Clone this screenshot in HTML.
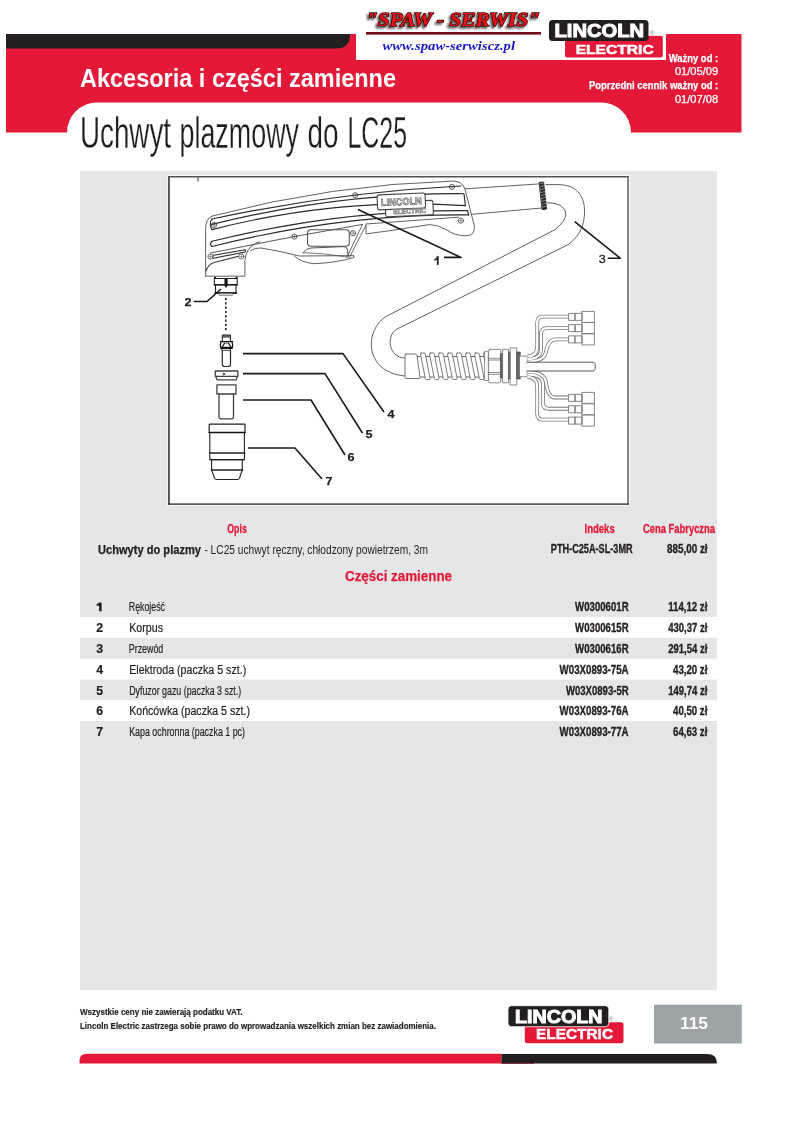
<!DOCTYPE html>
<html><head><meta charset="utf-8">
<style>
html,body{margin:0;padding:0;background:#fff;width:800px;height:1131px;overflow:hidden}
svg{position:absolute;left:0;top:0;display:block;will-change:transform}
svg{font-family:"Liberation Sans",sans-serif}
.b{font-weight:bold}
</style></head><body>
<svg width="800" height="1131" viewBox="0 0 800 1131">
<!-- header band -->
<rect x="6" y="34" width="735.5" height="98.5" fill="#E31937"/>
<path d="M6 34 H350 V34.5 Q350 48.5 336 48.5 H6 Z" fill="#231F20"/>
<rect x="356" y="0" width="310" height="60" fill="#fff"/>
<path d="M67 132.5 A30 30 0 0 1 97 102.5 H601 A30 30 0 0 1 631 132.5 Z" fill="#fff"/>
<rect x="67" y="132" width="564" height="40" fill="#fff"/>

<!-- SPAW SERWIS -->
<defs><filter id="blur1" x="-10%" y="-30%" width="120%" height="160%"><feGaussianBlur stdDeviation="1"/></filter></defs>
<text x="364" y="27.5" font-family="Liberation Serif" font-weight="bold" font-style="italic" font-size="19.5" fill="#555" filter="url(#blur1)" stroke="#555" stroke-width="1.5" textLength="174" lengthAdjust="spacingAndGlyphs">"SPAW - SERWIS"</text>
<text x="366" y="25.6" font-family="Liberation Serif" font-weight="bold" font-style="italic" font-size="19.5" fill="#EE1119" stroke="#3a0a0a" stroke-width="1.5" paint-order="stroke" textLength="174" lengthAdjust="spacingAndGlyphs">"SPAW - SERWIS"</text>
<rect x="366" y="32" width="175" height="2.6" fill="#7a0a14"/>
<text x="382.5" y="50" font-family="Liberation Serif" font-weight="bold" font-style="italic" font-size="12.5" fill="#1a1ac8" textLength="132.5" lengthAdjust="spacingAndGlyphs">www.spaw-serwiscz.pl</text>

<!-- Lincoln logo top -->
<rect x="564.4" y="35.2" width="99" height="22.8" rx="2.5" fill="#E31937" stroke="#fff" stroke-width="1.2"/>
<rect x="549" y="20" width="99.5" height="21" rx="3.5" fill="#231F20"/>
<text x="554.5" y="36.8" class="b" font-size="18" fill="#fff" stroke="#fff" stroke-width="1" textLength="89.5" lengthAdjust="spacingAndGlyphs">LINCOLN</text>
<text x="575.7" y="54.2" class="b" font-size="12.8" fill="#fff" stroke="#fff" stroke-width="0.5" textLength="78" lengthAdjust="spacingAndGlyphs">ELECTRIC</text>
<text x="650" y="35" font-size="6" fill="#777">®</text>

<!-- right header texts -->
<g fill="#fff" font-size="10.2" text-anchor="end" stroke="#fff" stroke-width="0.25">
<text x="718.2" y="61.6" class="b" textLength="49.5" lengthAdjust="spacingAndGlyphs">Ważny od :</text>
<text x="718.2" y="75.3" textLength="43.3" lengthAdjust="spacingAndGlyphs">01/05/09</text>
<text x="718.2" y="89.1" class="b" textLength="129.2" lengthAdjust="spacingAndGlyphs">Poprzedni cennik ważny od :</text>
<text x="718.2" y="103.1" textLength="43.3" lengthAdjust="spacingAndGlyphs">01/07/08</text>
</g>

<!-- titles -->
<text x="80" y="87" class="b" font-size="25" fill="#fff" textLength="316" lengthAdjust="spacingAndGlyphs">Akcesoria i części zamienne</text>
<g font-size="44.8" fill="#1d1d1b" stroke="#fff" stroke-width="0.3">
<text x="80" y="148" textLength="91" lengthAdjust="spacingAndGlyphs">Uchwyt</text>
<text x="179.5" y="148" textLength="119.5" lengthAdjust="spacingAndGlyphs">plazmowy</text>
<text x="307.5" y="148" textLength="31" lengthAdjust="spacingAndGlyphs">do</text>
<text x="347.5" y="148" textLength="59.5" lengthAdjust="spacingAndGlyphs">LC25</text>
</g>

<!-- grey panel -->
<rect x="80" y="171" width="637" height="819" fill="#E5E6E8"/>
<!-- diagram box -->
<rect x="167" y="175" width="463" height="331" fill="#fff" fill-opacity="0.7"/>
<rect x="168" y="176" width="460.75" height="328.8" fill="#fff"/>
<rect x="168" y="176" width="1.9" height="328.8" fill="#525252"/>
<rect x="168" y="176" width="460.75" height="1.5" fill="#525252"/>
<rect x="627.25" y="176" width="1.5" height="328.8" fill="#5e5e5e"/>
<rect x="168" y="503.4" width="460.75" height="1.4" fill="#333"/>
<g id="diagram" fill="none" stroke="#444" stroke-width="0.85" stroke-linejoin="round" stroke-linecap="round">
<!-- handle outline -->
<path d="M205.6 276.2 V229.5 Q205.6 218.5 212 216.1 Q332.5 184.3 453 181.1 Q462 181 465 189 L468.7 203.7 L474.4 226.2 Q475 235.8 466 235.8 Q455 235.8 446.2 229.6 Q437 224.5 429.4 224.6 Q410 227.5 390 230.7 L367 233.7"/>
<path d="M366 224 L458.6 217.2"/>
<path d="M205.6 276.2 H244.9 V260.5 Q246 248 256 243 L260 241.8"/>
<path d="M210.5 253 L294 236.6 L362.5 224.4" stroke-width="0.9"/>
<!-- grooves -->
<g stroke-width="1.15" stroke="#2a2a2a">
<path d="M212 219 Q336.5 192.2 461 186"/>
<path d="M212 224.4 Q338 193.1 464 193.7 L465.4 205.6"/>
<path d="M212 229.6 Q338.5 197 465.4 205.6"/>
<path d="M212 219 Q208.5 224 212 229.6"/>
<path d="M212 241.3 Q339.8 209.6 467.6 210.6 L468.7 215"/>
<path d="M212 246.5 Q340.4 214 468.7 214.9"/>
<path d="M212 241.3 Q209 244 212 246.5"/>
<path d="M212 255.5 L245.3 249.8 V252 L212 258.5"/>
</g>
<path d="M206 271 Q208 264.5 214 262.5 L238.3 256.4" stroke-width="1.1"/>
<!-- screws -->
<g stroke-width="0.8">
<circle cx="214" cy="225" r="2.6"/><circle cx="210.5" cy="256.4" r="2.6" fill="#fff"/><circle cx="241.3" cy="256.4" r="2.6" fill="#fff"/>
<circle cx="294.4" cy="236.6" r="2.6"/><circle cx="353" cy="233.2" r="2.6"/><circle cx="355.2" cy="195.2" r="2.6"/>
<circle cx="451.9" cy="186.9" r="2.6"/><circle cx="460.9" cy="220.6" r="2.6"/>
<path d="M212.5 225 h3 M214 223.5 v3 M209 256.4 h3 M210.5 254.9 v3 M239.8 256.4 h3 M241.3 254.9 v3 M292.9 236.6 h3 M294.4 235.1 v3 M351.5 233.2 h3 M353 231.7 v3 M353.7 195.2 h3 M355.2 193.7 v3 M450.4 186.9 h3 M451.9 185.4 v3 M459.4 220.6 h3 M460.9 219.1 v3" stroke-width="0.5"/>
</g>
<!-- trigger -->
<rect x="307.5" y="229.8" width="41.8" height="16.4" rx="3.5" stroke="#555" stroke-width="1.1"/>
<path d="M303 252.6 Q306 248.5 311 248 L344 246.6 Q347 246.6 347.6 250 L348 257" stroke="#555" stroke-width="1"/>
<path d="M303 252.6 Q325 253 346.5 257" stroke-width="0.7"/>
<path d="M250.6 250.6 Q255 247.5 261 248 Q280 251 299.5 256 L353.8 255.6 V257.6 Q335 263 313.5 263.7 Q300 262 294.3 255.9"/>
<path d="M362.5 224.4 L346.8 257.6 M366 225.2 L349.4 257.6" stroke-width="0.8"/>
<path d="M366 225.2 V233.7" stroke-width="0.8"/>
<!-- lincoln plates -->
<g transform="rotate(-2.5 405 205)">
<rect x="385.3" y="201.5" width="47.7" height="14.5" rx="2" stroke="#444" stroke-width="1.1" fill="#fff"/>
<rect x="377.5" y="193.8" width="48" height="15" rx="2.2" stroke="#444" stroke-width="1.1" fill="#fff"/>
<text x="381" y="205" font-size="10" font-weight="bold" fill="#eee" stroke="#666" stroke-width="0.7" textLength="41" lengthAdjust="spacingAndGlyphs">LINCOLN</text>
<text x="393" y="213.8" font-size="7" font-weight="bold" fill="#ccc" stroke="#777" stroke-width="0.6" textLength="33" lengthAdjust="spacingAndGlyphs">ELECTRIC</text>
</g>
<!-- head body (2) -->
<path d="M214.3 278.5 H237.2 V284.8 H214.3 Z" stroke="#222" stroke-width="1.1"/>
<path d="M215.5 285 V293 H236 V285" stroke="#222" stroke-width="1.1"/>
<path d="M215 293 H236.5" stroke="#111" stroke-width="1.5"/>
<path d="M214.3 284.8 H237.2" stroke="#111" stroke-width="1.3"/>
<circle cx="215" cy="277.8" r="1.1" fill="#111" stroke="none"/><circle cx="236.6" cy="277.8" r="1.1" fill="#111" stroke="none"/>
<path d="M224.5 279 H227.6 V285.5 L226 288 L224.5 285.5 Z" fill="#111" stroke="none"/>
<rect x="219.5" y="293.6" width="13" height="1.9" fill="#ddd" stroke="#777" stroke-width="0.7"/>
<!-- dotted line -->
<path d="M225.8 298 V332" stroke="#222" stroke-width="1.6" stroke-dasharray="2.2 2.1" stroke-linecap="butt"/>
<!-- electrode (4) -->
<path d="M222.3 341.2 V335.6 Q222.3 335 223 335 H229.8 Q230.5 335 230.5 335.6 V341.2" stroke="#222" stroke-width="1.1"/>
<rect x="222.5" y="335.2" width="7.8" height="2.4" fill="#3a3a3a" stroke="none"/>
<path d="M222.8 336.4 H230" stroke="#999" stroke-width="0.4"/>
<path d="M220.5 341.6 H232.8" stroke="#111" stroke-width="1.2"/>
<path d="M221 342 Q219.6 345 221 348.3 H232 Q233.4 345 232 342" stroke="#111" stroke-width="1.3"/>
<path d="M220.6 347.6 H232.4" stroke="#111" stroke-width="1.6"/>
<path d="M222.5 346.5 L224.5 343.2 M230.5 346.5 L228.5 343.2" stroke="#222" stroke-width="1.3"/>
<path d="M224.5 343.2 H228.5" stroke="#444" stroke-width="0.8"/>
<rect x="225.4" y="345" width="2.5" height="1.2" fill="#fff" stroke="none"/>
<path d="M221.8 348.6 V350.3 H230.5 V348.6" stroke="#222" stroke-width="0.9"/>
<path d="M222.3 350.3 V364 Q222.3 366.5 225 366.5 H227.8 Q230.5 366.5 230.5 364 V350.3" stroke="#222" stroke-width="1.2"/>
<!-- diffuser (5) -->
<path d="M215.3 371 H237.9 V376.3 H215.3 Z" stroke-width="1.3"/>
<path d="M215.8 376.3 L217 379.8 H236.2 L237.4 376.3" stroke-width="1.2"/>
<circle cx="223.8" cy="374" r="0.8" fill="#222"/>
<!-- tip (6) -->
<path d="M216.9 384.8 H236 V394 H216.9 Z" stroke-width="1.3"/>
<path d="M219 394 V417 Q219 418.8 221 418.8 H231.5 Q233.5 418.8 233.5 417 V394" stroke-width="1.3"/>
<!-- cap (7) -->
<path d="M209.2 432.5 V424.6 Q209.2 424.2 210 424.2 H244.3 Q245 424.2 245 424.6 V432.5" stroke="#222" stroke-width="1.2"/>
<path d="M209 432.5 H245.2" stroke="#111" stroke-width="1.4"/>
<path d="M209.8 432.5 V453 M244.4 432.5 V453" stroke="#222" stroke-width="1.1"/>
<path d="M209.5 453 H244.8" stroke="#222" stroke-width="1.3"/>
<path d="M209.6 453 L210 459.6 H244.3 L244.7 453" stroke="#222" stroke-width="1.1"/>
<path d="M210 459.6 H244.3" stroke="#222" stroke-width="1.3"/>
<path d="M211.6 459.6 V470 M242.3 459.6 V470" stroke="#222" stroke-width="1.1"/>
<path d="M211.3 470 H242.6" stroke="#222" stroke-width="1.3"/>
<path d="M211.6 470 L214.5 478 Q215.2 479.5 216.5 479.5 H237.5 Q238.8 479.5 239.5 478 L242.3 470" stroke="#222" stroke-width="1.1"/>
<!-- leaders -->
<g stroke="#1a1a1a" stroke-width="1.6" stroke-linecap="butt">
<path d="M358 209.4 L461 257.4 H444"/>
<path d="M574.7 221.7 L620.4 258.3 H607.7"/>
<path d="M193.8 301.5 H207 L221 289"/>
<path d="M243 353.6 H343 L384 412"/>
<path d="M243 373.6 H325 L362.4 433"/>
<path d="M243 400 H311 L345 455"/>
<path d="M248 448 H295 L322 479"/>
</g>
<g fill="#222" stroke="#222" stroke-width="0.25" font-size="11.5" font-weight="bold">
<path d="M434.4 259.6 Q436.6 258.4 437 256.3 H438.6 V264.7 H437 V259.4 Q435.8 260.3 434.4 260.8 Z"/>
<text x="598.7" y="262.6" font-weight="normal" stroke="#222" stroke-width="0.3" textLength="7" lengthAdjust="spacingAndGlyphs">3</text>
<text x="184.5" y="305.8" textLength="7" lengthAdjust="spacingAndGlyphs">2</text>
<text x="387.5" y="417.8" textLength="7" lengthAdjust="spacingAndGlyphs">4</text>
<text x="365.5" y="438.2" textLength="7" lengthAdjust="spacingAndGlyphs">5</text>
<text x="347.5" y="461.2" textLength="7" lengthAdjust="spacingAndGlyphs">6</text>
<text x="325.5" y="485.2" textLength="7" lengthAdjust="spacingAndGlyphs">7</text>
</g>
<!-- hose section near handle -->
<path d="M465.3 188.8 L539.7 183.9 M471.7 214.3 L541.8 208"/>
<path d="M539.5 182.4 L543.5 182 L546.5 209 L542.5 209.5 Z" fill="#2a2a2a" stroke="#222" stroke-width="1"/>
<path d="M539.6 184.0 l5 -1.4 M540.0 186.9 l5 -1.4 M540.3 189.8 l5 -1.4 M540.6 192.7 l5 -1.4 M541.0 195.6 l5 -1.4 M541.4 198.5 l5 -1.4 M541.7 201.4 l5 -1.4 M542.1 204.3 l5 -1.4 M542.4 207.2 l5 -1.4 " stroke="#aaa" stroke-width="0.7"/>
<!-- hose loop -->
<path d="M546 184.6 H557.7 C580 184.6 586 200 584.3 216.4 C583 230 577 238 568 244.7 L397 329 C386 335 388 358 405 358"/>
<path d="M547 202.6 Q566 203 565.8 214.3 Q565.5 221 555 229.7 L387 316 C365 328 362 372 405 376"/>
<!-- corrugated -->
<path d="M417 356.5 H490 M417 377 H490" stroke-width="0.8"/>
<g fill="#fff" stroke-width="0.85" stroke="#666"><path d="M421.3 353 H424.3 Q425.1 353 425.3 354 L430.1 378.3 Q430.2 379.5 429.3 379.5 H426.3 Q425.5 379.5 425.3 378.5 L420.5 354.2 Q420.4 353 421.3 353 Z"/><path d="M430.3 353 H433.3 Q434.1 353 434.3 354 L439.1 378.3 Q439.2 379.5 438.3 379.5 H435.3 Q434.5 379.5 434.3 378.5 L429.5 354.2 Q429.4 353 430.3 353 Z"/><path d="M439.3 353 H442.3 Q443.1 353 443.3 354 L448.1 378.3 Q448.2 379.5 447.3 379.5 H444.3 Q443.5 379.5 443.3 378.5 L438.5 354.2 Q438.4 353 439.3 353 Z"/><path d="M448.3 353 H451.3 Q452.1 353 452.3 354 L457.1 378.3 Q457.2 379.5 456.3 379.5 H453.3 Q452.5 379.5 452.3 378.5 L447.5 354.2 Q447.4 353 448.3 353 Z"/><path d="M457.3 353 H460.3 Q461.1 353 461.3 354 L466.1 378.3 Q466.2 379.5 465.3 379.5 H462.3 Q461.5 379.5 461.3 378.5 L456.5 354.2 Q456.4 353 457.3 353 Z"/><path d="M466.3 353 H469.3 Q470.1 353 470.3 354 L475.1 378.3 Q475.2 379.5 474.3 379.5 H471.3 Q470.5 379.5 470.3 378.5 L465.5 354.2 Q465.4 353 466.3 353 Z"/><path d="M475.3 353 H478.3 Q479.1 353 479.3 354 L484.1 378.3 Q484.2 379.5 483.3 379.5 H480.3 Q479.5 379.5 479.3 378.5 L474.5 354.2 Q474.4 353 475.3 353 Z"/><path d="M484.3 353 H487.3 Q488.1 353 488.3 354 L493.1 378.3 Q493.2 379.5 492.3 379.5 H489.3 Q488.5 379.5 488.3 378.5 L483.5 354.2 Q483.4 353 484.3 353 Z"/></g>
<path d="M406 354 H415.5 Q416.5 354 417 355 L420 377.5 Q420 378.5 419 378.5 H406 Q405 378.5 405 377.5 V355 Q405 354 406 354 Z" fill="#fff" stroke-width="0.9" stroke="#666"/>
<!-- connector -->
<path d="M485 351.3 H488.3 V380.5 H485 Z" fill="#fff" stroke="#777" stroke-width="0.8"/>
<path d="M490 349.4 H499.5 Q500.8 349.4 500.8 351 V381 Q500.8 382.8 499.5 382.8 H490 Q488.6 382.8 488.6 381 V351 Q488.6 349.4 490 349.4 Z M488.6 358.3 H500.8 M488.6 360 H500.8 M488.6 372.5 H500.8 M488.6 374.3 H500.8" fill="#fff" stroke="#777"/>
<rect x="500.8" y="353.8" width="3" height="24.2" fill="#666" stroke="#333" stroke-width="0.6"/>
<rect x="503" y="349.4" width="5.5" height="33.4" fill="#fff" stroke="#777"/>
<rect x="509" y="352" width="1.7" height="27" fill="#666" stroke="#333" stroke-width="0.5"/>
<rect x="510.5" y="347.9" width="6.3" height="37.1" fill="#fff" stroke="#777"/>
<rect x="517" y="352" width="3.2" height="27" fill="#666" stroke="#333" stroke-width="0.6"/>
<rect x="519.8" y="356.1" width="7.5" height="20.6" fill="#fff" stroke="#777"/>
<!-- wires -->
<g fill="none" stroke-linecap="butt">
<path d="M527.3 356.5 Q537.2 356.5 537.2 346 V323 Q537.2 316.7 543 316.7 H570" stroke="#777" stroke-width="3.8"/>
<path d="M527.3 359 Q541 359 541 349 V334 Q541 328.1 547 328.1 H570" stroke="#777" stroke-width="3.8"/>
<path d="M527.3 361.5 Q544 361.5 546 352 Q548 339.4 556 339.4 H570" stroke="#777" stroke-width="3.8"/>
<path d="M527.3 372 Q544 372 546 382 Q547.5 397.5 555 397.5 H570" stroke="#777" stroke-width="3.8"/>
<path d="M527.3 374.5 Q542.9 374.5 542.9 384 V403 Q542.9 408.75 549 408.75 H570" stroke="#777" stroke-width="3.8"/>
<path d="M527.3 377 Q537.2 377 537.2 387 V414 Q537.2 419.6 543 419.6 H570" stroke="#777" stroke-width="3.8"/>
<path d="M527.3 356.5 Q537.2 356.5 537.2 346 V323 Q537.2 316.7 543 316.7 H570" stroke="#fff" stroke-width="2.2"/>
<path d="M527.3 359 Q541 359 541 349 V334 Q541 328.1 547 328.1 H570" stroke="#fff" stroke-width="2.2"/>
<path d="M527.3 361.5 Q544 361.5 546 352 Q548 339.4 556 339.4 H570" stroke="#fff" stroke-width="2.2"/>
<path d="M527.3 372 Q544 372 546 382 Q547.5 397.5 555 397.5 H570" stroke="#fff" stroke-width="2.2"/>
<path d="M527.3 374.5 Q542.9 374.5 542.9 384 V403 Q542.9 408.75 549 408.75 H570" stroke="#fff" stroke-width="2.2"/>
<path d="M527.3 377 Q537.2 377 537.2 387 V414 Q537.2 419.6 543 419.6 H570" stroke="#fff" stroke-width="2.2"/>
</g>
<path d="M527 362.2 H593 Q595.3 362.2 595.3 366.6 Q595.3 371 593 371 H527" fill="#fff" stroke-width="0.9"/>
<!-- connectors -->
<g stroke-width="0.9" fill="#fff" stroke="#777">
<path d="M569 313.4 h6.2 v7 h-6.2 z M575.2 313.4 h7 v7 h-7 z M582.2 311.4 h12.2 v11 h-12.2 z"/>
<path d="M569 324.6 h6.2 v7 h-6.2 z M575.2 324.6 h7 v7 h-7 z M582.2 322.6 h12.2 v11 h-12.2 z"/>
<path d="M569 335.9 h6.2 v7 h-6.2 z M575.2 335.9 h7 v7 h-7 z M582.2 333.9 h12.2 v11 h-12.2 z"/>
<path d="M569 394.4 h6.2 v7 h-6.2 z M575.2 394.4 h7 v7 h-7 z M582.2 392.4 h12.2 v11 h-12.2 z"/>
<path d="M569 405.8 h6.2 v7 h-6.2 z M575.2 405.8 h7 v7 h-7 z M582.2 403.8 h12.2 v11 h-12.2 z"/>
<path d="M569 417.1 h6.2 v7 h-6.2 z M575.2 417.1 h7 v7 h-7 z M582.2 415.1 h12.2 v11 h-12.2 z"/>
</g>
<path d="M198 178 V181" stroke="#222" stroke-width="1"/>
</g>

<!-- table -->
<g fill="#E31937" font-size="12.3" class="b" stroke="#E31937" stroke-width="0.3">
<text x="227.3" y="533" textLength="19.5" lengthAdjust="spacingAndGlyphs">Opis</text>
<text x="584.6" y="533" textLength="30.1" lengthAdjust="spacingAndGlyphs">Indeks</text>
<text x="643" y="533" textLength="72" lengthAdjust="spacingAndGlyphs">Cena Fabryczna</text>
</g>
<g fill="#231F20" font-size="12.3">
<text x="98" y="554" class="b" stroke="#231F20" stroke-width="0.25" textLength="103" lengthAdjust="spacingAndGlyphs">Uchwyty do plazmy</text>
<text x="204.4" y="554" textLength="223.6" lengthAdjust="spacingAndGlyphs">- LC25 uchwyt ręczny, chłodzony powietrzem, 3m</text>
<text x="550.8" y="553.3" class="b" stroke="#231F20" stroke-width="0.35" textLength="81.9" lengthAdjust="spacingAndGlyphs">PTH-C25A-SL-3MR</text>
<text x="707.6" y="553.3" class="b" text-anchor="end" stroke="#231F20" stroke-width="0.35" textLength="40.6" lengthAdjust="spacingAndGlyphs">885,00 zł</text>
</g>
<text x="345" y="580.6" class="b" font-size="13.8" fill="#E31937" stroke="#E31937" stroke-width="0.25" textLength="107" lengthAdjust="spacingAndGlyphs">Części zamienne</text>

<!-- row backgrounds (white rows) -->
<rect x="80" y="617" width="637" height="20.8" fill="#fff"/>
<rect x="80" y="658.8" width="637" height="20.8" fill="#fff"/>
<rect x="80" y="700.2" width="637" height="20.8" fill="#fff"/>

<g fill="#231F20" font-size="12.3" stroke="#231F20" stroke-width="0.2">
<path d="M98.9 602.6 H101.6 V611.25 H99.1 V605.7 H96.6 V604 Q98.6 603.9 98.9 602.6 Z" stroke="none"/>
<text x="96.2" y="632" class="b">2</text>
<text x="96.2" y="652.8" class="b">3</text>
<text x="96.2" y="673.7" class="b">4</text>
<text x="96.2" y="694.5" class="b">5</text>
<text x="96.2" y="715.1" class="b">6</text>
<text x="96.2" y="735.8" class="b">7</text>

<text x="128.8" y="611.3" textLength="36.2" lengthAdjust="spacingAndGlyphs">Rękojeść</text>
<text x="129.2" y="632" textLength="33.8" lengthAdjust="spacingAndGlyphs">Korpus</text>
<text x="128.8" y="652.8" textLength="34.5" lengthAdjust="spacingAndGlyphs">Przewód</text>
<text x="129.2" y="673.7" textLength="117" lengthAdjust="spacingAndGlyphs">Elektroda (paczka 5 szt.)</text>
<text x="129.2" y="694.5" textLength="112" lengthAdjust="spacingAndGlyphs">Dyfuzor gazu (paczka 3 szt.)</text>
<text x="129.2" y="715.1" textLength="120.8" lengthAdjust="spacingAndGlyphs">Końcówka (paczka 5 szt.)</text>
<text x="129.2" y="735.8" textLength="115.8" lengthAdjust="spacingAndGlyphs">Kapa ochronna (paczka 1 pc)</text>
</g>
<g fill="#231F20" font-size="12.3" class="b" text-anchor="end" stroke="#231F20" stroke-width="0.35">
<text x="628.6" y="611.3" textLength="53.5" lengthAdjust="spacingAndGlyphs">W0300601R</text>
<text x="628.6" y="632" textLength="53.5" lengthAdjust="spacingAndGlyphs">W0300615R</text>
<text x="628.6" y="652.8" textLength="53.5" lengthAdjust="spacingAndGlyphs">W0300616R</text>
<text x="628.6" y="673.7" textLength="69" lengthAdjust="spacingAndGlyphs">W03X0893-75A</text>
<text x="628.6" y="694.5" textLength="62.6" lengthAdjust="spacingAndGlyphs">W03X0893-5R</text>
<text x="628.6" y="715.1" textLength="69" lengthAdjust="spacingAndGlyphs">W03X0893-76A</text>
<text x="628.6" y="735.8" textLength="69" lengthAdjust="spacingAndGlyphs">W03X0893-77A</text>
<text x="707.4" y="611.3" textLength="39.2" lengthAdjust="spacingAndGlyphs">114,12 zł</text>
<text x="707.4" y="632" textLength="39.2" lengthAdjust="spacingAndGlyphs">430,37 zł</text>
<text x="707.4" y="652.8" textLength="39.2" lengthAdjust="spacingAndGlyphs">291,54 zł</text>
<text x="707.4" y="673.7" textLength="34.4" lengthAdjust="spacingAndGlyphs">43,20 zł</text>
<text x="707.4" y="694.5" textLength="39.2" lengthAdjust="spacingAndGlyphs">149,74 zł</text>
<text x="707.4" y="715.1" textLength="34.4" lengthAdjust="spacingAndGlyphs">40,50 zł</text>
<text x="707.4" y="735.8" textLength="34.4" lengthAdjust="spacingAndGlyphs">64,63 zł</text>
</g>

<!-- footer -->
<g fill="#231F20" font-size="9" class="b" stroke="#231F20" stroke-width="0.2">
<text x="80" y="1014.5" textLength="162.5" lengthAdjust="spacingAndGlyphs">Wszystkie ceny nie zawierają podatku VAT.</text>
<text x="80" y="1028.8" textLength="356" lengthAdjust="spacingAndGlyphs">Lincoln Electric zastrzega sobie prawo do wprowadzania wszelkich zmian bez zawiadomienia.</text>
</g>
<rect x="524.8" y="1022.2" width="98.7" height="21" rx="2.5" fill="#E31937"/>
<rect x="508" y="1005.7" width="100.8" height="21" rx="3.5" fill="#231F20" stroke="#fff" stroke-width="0.8"/>
<text x="515" y="1023.2" class="b" font-size="18" fill="#fff" stroke="#fff" stroke-width="1" textLength="87.5" lengthAdjust="spacingAndGlyphs">LINCOLN</text>
<text x="609" y="1021" font-size="6" fill="#777">®</text>
<text x="536" y="1039.2" class="b" font-size="15.5" fill="#fff" stroke="#fff" stroke-width="0.5" textLength="77" lengthAdjust="spacingAndGlyphs">ELECTRIC</text>
<rect x="654" y="1004.7" width="87.8" height="38.8" fill="#9DA4A7"/>
<text x="680" y="1029.2" class="b" font-size="16.5" fill="#fff" textLength="28" lengthAdjust="spacingAndGlyphs">115</text>
<path d="M79.5 1063.6 V1061 Q79.5 1053.8 87 1053.8 H501.5 V1063.6 Z" fill="#E31937"/>
<rect x="501" y="1062" width="33" height="1.8" fill="#E31937"/>
<path d="M501.5 1054 H707 Q717 1054 717 1063.4 H501.5 Z" fill="#231F20"/>
</svg>
</body></html>
